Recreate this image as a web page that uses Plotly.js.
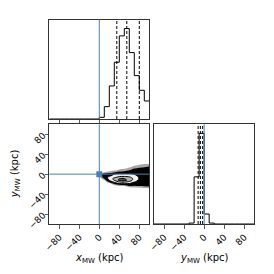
<!DOCTYPE html>
<html><head><meta charset="utf-8">
<script src="https://cdn.plot.ly/plotly-3.0.1.min.js"></script>
<style>html,body{margin:0;padding:0;background:#fff}#chart{width:274px;height:274px}</style>
</head><body><div id="chart"></div>
<script>
// ---- data ----
const truths = [0, 0];                       // [x_MW, y_MW] truth values (kpc)
const binEdges = [-100,-90,-80,-70,-60,-50,-40,-30,-20,-10,0,10,20,30,40,50,60,70,80,90,100];
const xCounts = [0,0,0,0,0,0,0,0,0,0,5,37,99,170,249,271,199,130,86,54];
const yCounts = [0,0,0,0,0,0,0,1,52,100,11,1,0,0,0,0,0,0,0,0];
const xQuantiles = [35, 55, 80];
const yQuantiles = [-12, -7.5, -3];
const tickVals = [-80, -40, 0, 40, 80];
const tickLabels = ['\u221280', '\u221240', '0', '40', '80'];
const xTitle = '<i>x</i><sub>MW</sub> (kpc)';
const yTitle = '<i>y</i><sub>MW</sub> (kpc)';
// 2D density grid (x columns, y rows)
const densX = [0,10,20,30,40,50,60,70,80,90,100];
const densY = [21,18,15,12,9,6,3,0,-3,-6,-9,-12,-15,-18,-21,-24,-27,-30];
const densCols = [
  [0,0,0,0,0,0,0.4,2.2,2.2,0.4,0,0,0,0,0,0,0,0],
  [0,0,0,0,0,0.3,1.3,2.6,3,3,2.1,0.9,0.2,0,0,0,0,0],
  [0,0,0,0,0.3,0.9,1.8,2.7,3.6,4.5,4.8,4.2,2.5,1,0.3,0,0,0],
  [0,0,0,0.2,0.6,1.3,2.1,4,4.6,5.5,6.5,6.2,5,3,1.3,0.4,0,0],
  [0,0,0.2,0.5,1.1,1.8,2.9,4.5,5.3,6.4,7.9,8.6,6.4,4.8,2.1,0.9,0.3,0],
  [0,0.1,0.3,0.7,1.4,2,3.1,4.6,5.4,6.5,8,8.7,6.6,5,2.4,1,0.4,0],
  [0.1,0.3,0.7,1.2,1.8,2.4,3.3,4.4,5.2,6.2,7,7.2,5.9,4.4,3,1.9,0.8,0.2],
  [0.4,0.8,1.3,1.9,2.3,2.8,3.3,3.9,4.5,5.2,5.5,5.2,4.3,3.3,2.6,1.8,0.9,0.3],
  [0.7,1.1,1.6,2.1,2.6,2.9,3.1,3.4,3.6,3.8,3.8,3.6,3.2,2.8,2.4,2,1.1,0.4],
  [0.9,1.3,1.8,2.3,2.6,2.8,3,3.1,3.3,3.4,3.4,3.3,3,2.7,2.4,2.1,1.2,0.5],
  [1.2,1.6,2.1,2.5,2.8,3,3.1,3.2,3.3,3.3,3.3,3.2,3,2.7,2.4,2.2,1.3,0.6]
];

// ---- build ----
const densZ = densY.map((_, r) => densCols.map(col => col[r]));
const stepY = a => a.concat([a[a.length - 1]]);
const BLUE = '#4682b4';
const FONT = 'DejaVu Sans, sans-serif';

const data = [
  {type:'contour', x:densX, y:densY, z:densZ, xaxis:'x', yaxis:'y',
   contours:{start:1, end:8, size:1, coloring:'fill', showlines:false},
   colorscale:[[0,'rgba(0,0,0,0)'],[0.125,'rgba(0,0,0,0.35)'],[0.25,'#000'],[0.375,'#000'],
               [0.5,'#f2f2f2'],[0.625,'#f2f2f2'],[0.75,'#b4b4b4'],[0.875,'#b4b4b4'],[1,'#505050']],
   line:{smoothing:1, width:0}, showscale:false, hoverinfo:'skip'},
  {type:'contour', x:densX, y:densY, z:densZ, xaxis:'x', yaxis:'y',
   contours:{start:4, end:8, size:2, coloring:'lines'},
   colorscale:[[0,'#000'],[1,'#000']], line:{smoothing:1, width:1}, showscale:false, hoverinfo:'skip'},
  {type:'scatter', mode:'lines', x:binEdges, y:stepY(xCounts), xaxis:'x3', yaxis:'y3',
   line:{shape:'hv', color:'#000', width:1}},
  {type:'scatter', mode:'lines', x:binEdges, y:stepY(yCounts), xaxis:'x2', yaxis:'y2',
   line:{shape:'hv', color:'#000', width:1}},
  {type:'scatter', mode:'markers', x:[truths[0]], y:[truths[1]], xaxis:'x', yaxis:'y',
   marker:{symbol:'square', size:6, color:BLUE}}
];

const shapes = [];
const vline = (xr, yr, v, color, dash) => shapes.push({type:'line', xref:xr, yref:yr+' domain', x0:v, x1:v, y0:0, y1:1,
  line:{color:color, width:1, dash:dash||'solid'}});
xQuantiles.forEach(q => vline('x3', 'y3', q, '#000', '3px,2px'));
yQuantiles.forEach(q => vline('x2', 'y2', q, '#000', '3px,2px'));
vline('x3', 'y3', truths[0], BLUE);
vline('x', 'y', truths[0], BLUE);
vline('x2', 'y2', truths[1], BLUE);
shapes.push({type:'line', xref:'x domain', yref:'y', x0:0, x1:1, y0:truths[1], y1:truths[1], line:{color:BLUE, width:1}});

const base = {range:[-100,100], showgrid:false, zeroline:false, showline:true, mirror:true,
  linecolor:'#333', linewidth:1, ticks:'outside', ticklen:3.5, tickwidth:0.8, tickcolor:'#333',
  tickmode:'array', tickvals:tickVals, ticktext:tickLabels, tickangle:-45,
  tickfont:{family:FONT, size:9, color:'#000'}, automargin:false};
const titleFont = {family:FONT, size:10, color:'#000'};
const LX = [49.3/274, 149.3/274], RX = [154/274, 254.3/274];
const BY = [50/274, 149.7/274], TY = [155/274, 254.5/274];

const annotations = [
  {text:xTitle, xref:'x domain', yref:'paper', x:0.5, y:16/274, xanchor:'center', yanchor:'middle', showarrow:false, font:titleFont},
  {text:yTitle, xref:'x2 domain', yref:'paper', x:0.5, y:16/274, xanchor:'center', yanchor:'middle', showarrow:false, font:titleFont},
  {text:yTitle, xref:'paper', yref:'y domain', x:15/274, y:0.5, xanchor:'center', yanchor:'middle', textangle:-90, showarrow:false, font:titleFont}
];

const layout = {
  width:274, height:274, margin:{l:0, r:0, t:0, b:0}, showlegend:false,
  paper_bgcolor:'#fff', plot_bgcolor:'#fff',
  xaxis: Object.assign({}, base, {domain:LX, anchor:'y'}),
  yaxis: Object.assign({}, base, {domain:BY, anchor:'x'}),
  xaxis2: Object.assign({}, base, {domain:RX, anchor:'y2'}),
  yaxis2: Object.assign({}, base, {domain:BY, anchor:'x2', range:[0, 1.1*Math.max(...yCounts)],
    ticks:'', showticklabels:false, tickmode:'auto'}),
  xaxis3: Object.assign({}, base, {domain:LX, anchor:'y3', showticklabels:false}),
  yaxis3: Object.assign({}, base, {domain:TY, anchor:'x3', range:[0, 1.1*Math.max(...xCounts)],
    ticks:'', showticklabels:false, tickmode:'auto'}),
  shapes: shapes,
  annotations: annotations
};
Plotly.newPlot('chart', data, layout, {staticPlot:true});
</script></body></html>
